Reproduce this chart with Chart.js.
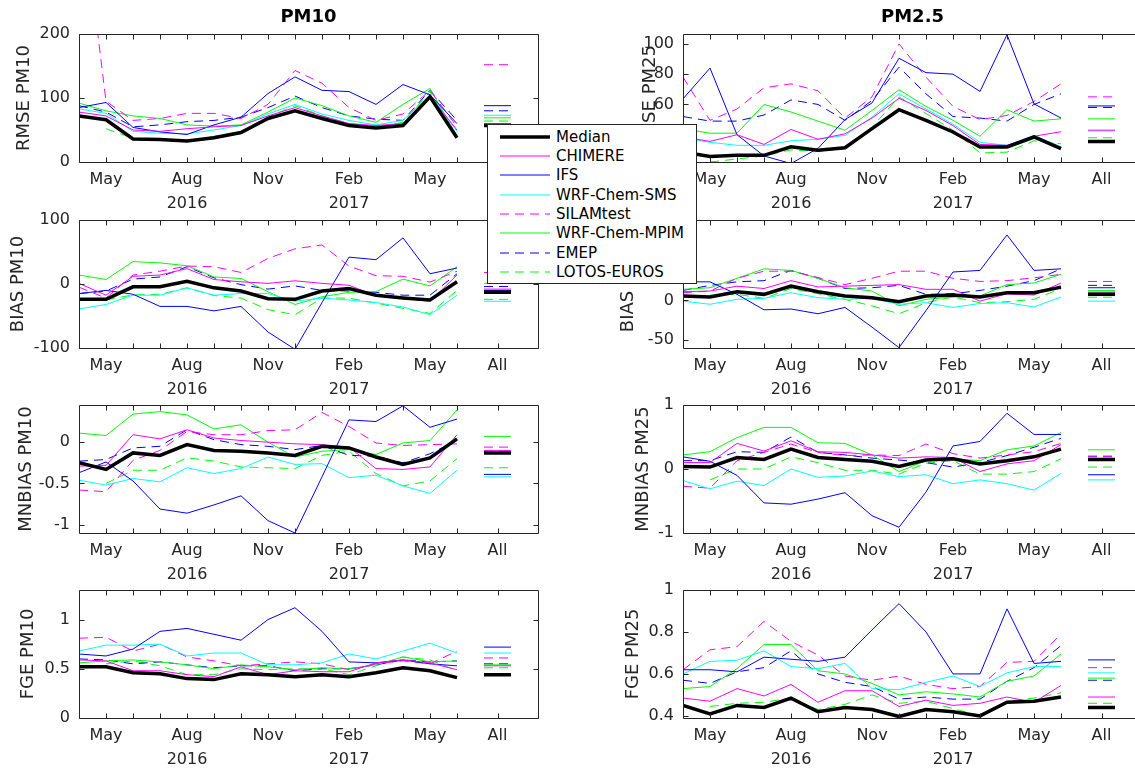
<!DOCTYPE html>
<html>
<head>
<meta charset="utf-8">
<title>Model evaluation PM10 / PM2.5</title>
<script src="https://cdn.jsdelivr.net/npm/chart.js@4.4.1/dist/chart.umd.min.js"></script>
<style>
  html, body { margin: 0; padding: 0; background: #fff; }
  body { position: relative; width: 1135px; height: 771px; overflow: hidden; }
  canvas.panel { position: absolute; }
  #legend { position: absolute; left: 487px; top: 124px; width: 210px; height: 160px; box-sizing: border-box;
            border: 1px solid #262626; background: #fff; z-index: 5;
            font-family: 'DejaVu Sans', sans-serif; font-size: 15px; color: #000; }
  #legend .item { position: absolute; left: 0; width: 200px; height: 20px; line-height: 20px; white-space: nowrap; }
  #legend svg { position: absolute; left: 12px; top: 6px; }
  #legend span { position: absolute; left: 68px; top: 0; }
</style>
</head>
<body>
<div id="legend"></div>
<script>
// ---- categories ----
const months = ['Apr 2016', 'May 2016', 'Jun 2016', 'Jul 2016', 'Aug 2016', 'Sep 2016', 'Oct 2016',
                'Nov 2016', 'Dec 2016', 'Jan 2017', 'Feb 2017', 'Mar 2017', 'Apr 2017', 'May 2017', 'Jun 2017'];
const allPos = 15.5;   // the "All" (whole period) column sits 1.5 months after the last month
const xMax = 17;

// ---- x tick positions and labels ----
const xTickPos  = [1, 2, 3, 4, 5, 6, 7, 8, 9, 10, 11, 12, 13, 14, 15.5];
const xTickText = ['May', '', '', ['Aug', '2016'], '', '', 'Nov', '', '', ['Feb', '2017'], '', '', 'May', '', 'All'];

// ---- models ----
const models      = ['Median', 'CHIMERE', 'IFS', 'WRF-Chem-SMS', 'SILAMtest', 'WRF-Chem-MPIM', 'EMEP', 'LOTOS-EUROS'];
const modelColors = ['#000000', '#ff00ff', '#0000ff', '#00ffff', '#ff00ff', '#00ff00', '#0000ff', '#00ff00'];
const modelDash   = [[], [], [], [], [9, 6], [], [9, 6], [9, 6]];
const modelWidth  = [3.5, 1, 1, 1, 1, 1, 1, 1];

// ---- RMSE PM10 (rows follow the model order) ----
const rmsePM10 = [
  [72, 66, 36, 35, 33, 38, 46, 68, 80, 68, 57, 53, 57, 102, 38],
  [78, 72, 50, 48, 52, 55, 57, 72, 85, 72, 60, 57, 60, 103, 50],
  [85, 93, 54, 47, 43, 58, 70, 107, 133, 112, 110, 90, 121, 105, 60],
  [83, 76, 48, 45, 44, 50, 57, 75, 90, 75, 65, 58, 65, 105, 48],
  [440, 95, 65, 68, 76, 76, 68, 90, 143, 123, 85, 65, 75, 112, 55],
  [92, 80, 72, 68, 58, 56, 58, 78, 100, 88, 72, 62, 90, 115, 40],
  [88, 78, 55, 58, 63, 65, 70, 85, 103, 85, 72, 67, 65, 112, 65],
  [null, 52, 37, 36, 33, 40, 48, 70, 88, 72, 60, 55, 62, 110, 38]
];
const rmsePM10All = [57, 60, 88, 73, 152, 69, 80, 64];

// ---- RMSE PM2.5 ----
const rmsePM25 = [
  [28.6, 25.7, 26.4, 26.4, 32, 29.7, 31.4, 44, 56.5, 49.5, 41.8, 31.9, 31.9, 38.5, 30.8],
  [38.5, 35.6, 40, 33.6, 43.5, 37, 40.6, 51, 64, 56, 46, 33.6, 33, 39, 42],
  [63.7, 84, 40, 26, 21, 31, 50, 61, 90.5, 81, 80, 68.6, 106, 60.4, 51],
  [38, 35, 33, 33, 36, 37, 39.6, 51.6, 67, 57, 47, 35, 33, 39.6, 32],
  [78, 49.5, 57, 71, 73.6, 69, 51, 65, 100, 78, 58.7, 50, 52.7, 62, 73.6],
  [44, 41, 41, 60, 55, 49, 43, 56, 69.7, 58.7, 49.5, 39, 56.5, 49, 50.5],
  [52, 49, 49, 53, 63, 60, 49.5, 62.6, 84.6, 67, 52, 51, 49, 60, 67],
  [null, 22, 24, 26, 30, 29, 31, 45, 65, 54, 43, 28, 28.5, 36, 34]
];
const rmsePM25All = [35.6, 43, 59, 42.5, 65, 50.5, 58, 38];

// ---- BIAS PM10 ----
const biasPM10 = [
  [-24, -24, -4.4, -4.4, 4.4, -6, -11, -23, -24, -11, -7, -17.5, -21.7, -25, 3.4],
  [1, -17.5, 12, 14, 24, 7, 3.4, 1, 5, 1, -2, -18.5, -22.7, -27, 14],
  [-15, -10, -16, -35, -35, -42, -35, -75, -102, -29, 42, 38, 72, 16, 25],
  [-39, -32, -17.5, -17.5, -6, -17.5, -15, -15, -27, -22, -25, -29, -36, -48, -17.5],
  [-5, -22, 14, 20, 28, 27, 18, 40, 55, 61, 28, 13, 12, 3, 20],
  [14, 7, 35, 33, 28.5, 11, 8.6, -12, -32, -20, -13, -12, 7.6, -3, 27],
  [-15, -11, 7.6, 11, 27, 9.7, -1, -8, -3, -10, -11, -13, -17.5, -17.5, 16],
  [null, -25, -17, -16, -6, -18, -22, -40, -48, -22, -22, -30, -38, -46, -10]
];
const biasPM10All = [-13, -8, -10, -27, 18, 1, -4, -24];

// ---- BIAS PM2.5 ----
const biasPM25 = [
  [5.5, 4.2, 11, 7.6, 18, 11, 5.5, 3.4, -1.7, 5.5, 6.7, 4.2, 9.7, 9.7, 16.8],
  [11, 11.8, 18, 15, 25, 17, 18, 19, 20, 14, 14, -1, 8.4, 6.7, 22],
  [23.5, 23.5, 7.6, -12, -11, -17, -9, -34, -60, -13, 36, 38, 83, 38, 40],
  [-1, -5, 1.3, 2.5, 9.7, 3.4, 1.3, 2.5, -5, -3, -9, -4, -3, -8.4, 4.2],
  [9.7, 11.8, 28, 37, 37, 29, 20, 28, 37, 37, 28, 24, 25, 28.6, 33],
  [14, 16, 28, 40, 38, 28, 16, 11.8, -7, 1.3, 4.2, 5.5, 20, 22, 33],
  [12.6, 19, 23.5, 25, 38, 28, 15, 16, 19, 7.6, 8.4, 12.6, 18, 25, 40],
  [null, 6.7, 7.6, 2.5, 15, 8.4, 1.3, -7, -17, -3, 4.2, -3, -1.7, 1.3, 15]
];
const biasPM25All = [7.6, 10.5, 16, -1, 24, 12.6, 19, 4];

// ---- MNBIAS PM10 ----
const mnbiasPM10 = [
  [-0.25, -0.33, -0.13, -0.16, -0.03, -0.1, -0.11, -0.13, -0.16, -0.05, -0.07, -0.18, -0.27, -0.19, 0.04],
  [-0.29, -0.28, 0.09, 0.04, 0.15, 0.05, 0.02, 0, -0.02, -0.03, -0.06, -0.32, -0.33, -0.3, 0.09],
  [-0.37, -0.24, -0.47, -0.81, -0.86, -0.76, -0.65, -0.95, -1.1, -0.42, 0.27, 0.25, 0.44, 0.18, 0.28],
  [-0.46, -0.52, -0.44, -0.48, -0.31, -0.38, -0.32, -0.18, -0.27, -0.26, -0.43, -0.4, -0.53, -0.62, -0.34],
  [-0.58, -0.6, -0.22, -0.1, 0.13, 0.09, 0.09, 0.14, 0.15, 0.36, 0.19, -0.01, -0.04, -0.03, -0.02],
  [0.11, 0.08, 0.34, 0.37, 0.33, 0.16, 0.21, 0, -0.18, -0.11, -0.09, -0.15, -0.01, 0.02, 0.39],
  [-0.23, -0.21, -0.07, -0.05, 0.15, 0.03, -0.03, -0.05, -0.09, -0.04, -0.16, -0.17, -0.25, -0.14, 0.02],
  [null, -0.5, -0.34, -0.34, -0.19, -0.23, -0.3, -0.31, -0.32, -0.16, -0.11, -0.38, -0.53, -0.47, -0.2]
];
const mnbiasPM10All = [-0.13, -0.1, -0.39, -0.42, -0.06, 0.07, -0.11, -0.31];

// ---- MNBIAS PM2.5 ----
const mnbiasPM25 = [
  [0.04, 0.03, 0.18, 0.15, 0.31, 0.18, 0.15, 0.12, 0.04, 0.14, 0.16, 0.08, 0.13, 0.19, 0.31],
  [0.1, 0.1, 0.4, 0.28, 0.44, 0.27, 0.26, 0.22, 0.17, 0.19, 0.18, -0.04, 0.08, 0.13, 0.38],
  [0.19, 0.12, -0.1, -0.53, -0.55, -0.47, -0.37, -0.73, -0.91, -0.36, 0.36, 0.43, 0.87, 0.54, 0.54],
  [-0.18, -0.31, -0.19, -0.26, 0, -0.13, -0.11, -0.03, -0.12, -0.09, -0.23, -0.17, -0.23, -0.33, -0.07],
  [-0.27, -0.3, 0.13, 0.26, 0.39, 0.26, 0.21, 0.22, 0.21, 0.39, 0.24, 0.17, 0.22, 0.27, 0.4],
  [0.22, 0.27, 0.49, 0.65, 0.65, 0.41, 0.4, 0.22, -0.04, 0.13, 0.16, 0.13, 0.3, 0.36, 0.57],
  [0.13, 0.13, 0.27, 0.26, 0.5, 0.26, 0.22, 0.17, 0.14, 0.1, 0.03, 0.1, 0.21, 0.34, 0.48],
  [null, -0.17, 0, 0, 0.19, 0.1, -0.02, -0.02, -0.08, 0.09, 0.13, -0.08, -0.08, -0.04, 0.16]
];
const mnbiasPM25All = [0.15, 0.16, -0.09, -0.17, 0.19, 0.3, 0.2, 0.03];

// ---- FGE PM10 ----
const fgePM10 = [
  [0.52, 0.52, 0.46, 0.45, 0.4, 0.39, 0.45, 0.44, 0.42, 0.44, 0.42, 0.46, 0.51, 0.48, 0.41],
  [0.59, 0.58, 0.48, 0.48, 0.44, 0.42, 0.52, 0.44, 0.48, 0.47, 0.47, 0.56, 0.59, 0.56, 0.49],
  [0.65, 0.63, 0.7, 0.88, 0.91, 0.85, 0.79, 1.0, 1.12, 0.88, 0.57, 0.56, 0.59, 0.55, 0.53],
  [0.68, 0.74, 0.74, 0.75, 0.63, 0.66, 0.66, 0.54, 0.54, 0.56, 0.65, 0.6, 0.68, 0.76, 0.66],
  [0.81, 0.82, 0.68, 0.75, 0.62, 0.58, 0.53, 0.55, 0.57, 0.55, 0.49, 0.55, 0.58, 0.55, 0.68],
  [0.56, 0.58, 0.59, 0.57, 0.54, 0.5, 0.54, 0.52, 0.49, 0.51, 0.5, 0.54, 0.62, 0.57, 0.58],
  [0.6, 0.59, 0.55, 0.57, 0.54, 0.51, 0.53, 0.53, 0.48, 0.5, 0.5, 0.54, 0.59, 0.57, 0.58],
  [null, 0.55, 0.58, 0.53, 0.44, 0.44, 0.5, 0.49, 0.5, 0.5, 0.44, 0.53, 0.62, 0.59, 0.48]
];
const fgePM10All = [0.44, 0.53, 0.72, 0.66, 0.61, 0.54, 0.55, 0.51];

// ---- FGE PM2.5 ----
const fgePM25 = [
  [0.45, 0.41, 0.45, 0.44, 0.485, 0.42, 0.44, 0.43, 0.397, 0.43, 0.42, 0.4, 0.465, 0.47, 0.49],
  [0.485, 0.47, 0.53, 0.495, 0.55, 0.465, 0.52, 0.52, 0.445, 0.475, 0.45, 0.46, 0.49, 0.465, 0.545],
  [0.62, 0.62, 0.61, 0.68, 0.67, 0.66, 0.68, 0.81, 0.935, 0.8, 0.6, 0.6, 0.91, 0.65, 0.66],
  [0.6, 0.66, 0.665, 0.71, 0.635, 0.625, 0.65, 0.53, 0.525, 0.56, 0.59, 0.54, 0.605, 0.635, 0.635],
  [0.62, 0.715, 0.73, 0.85, 0.755, 0.69, 0.59, 0.57, 0.59, 0.55, 0.53, 0.54, 0.655, 0.66, 0.79],
  [0.53, 0.54, 0.625, 0.74, 0.74, 0.615, 0.6, 0.555, 0.5, 0.515, 0.505, 0.49, 0.565, 0.59, 0.695],
  [0.57, 0.555, 0.61, 0.63, 0.71, 0.6, 0.56, 0.54, 0.48, 0.49, 0.48, 0.48, 0.565, 0.63, 0.735],
  [null, 0.445, 0.46, 0.465, 0.485, 0.43, 0.455, 0.5, 0.46, 0.47, 0.435, 0.4, 0.47, 0.485, 0.51]
];
const fgePM25All = [0.44, 0.49, 0.667, 0.605, 0.63, 0.58, 0.57, 0.46];

// ---- y-axis ranges and ticks ----
const rmsePM10Ticks   = [0, 100, 200];
const rmsePM25Ticks   = [40, 60, 80, 100];
const biasPM10Ticks   = [-100, 0, 100];
const biasPM25Ticks   = [-50, 0, 50, 100];
const mnbiasPM10Ticks = [-1, -0.5, 0];
const mnbiasPM25Ticks = [-1, 0, 1];
const fgePM10Ticks    = [0, 0.5, 1];
const fgePM25Ticks    = [0.4, 0.6, 0.8, 1];

// ---- page layout ----
const FONT = "'DejaVu Sans', sans-serif";
const AXIS_COLOR = '#262626';
const rowTop = [34, 220, 405, 590];     // top of each plotting box
const plotH = 128;
const headH = 33;                      // room above a plotting box (title row)
const xAxisH = 55;
const colCanvasLeft = [0, 600];
const canvasW = 560;
const colPlotLeft = [79, 683];
const colPlotRight = [538, 1142];

const panels = [
  { row: 0, col: 0, title: 'PM10',  ylabel: 'RMSE PM10',   values: rmsePM10,   all: rmsePM10All,   ticks: rmsePM10Ticks,   min: 0,    max: 200,   labelX: 24 },
  { row: 0, col: 1, title: 'PM2.5', ylabel: 'RMSE PM25',   values: rmsePM25,   all: rmsePM25All,   ticks: rmsePM25Ticks,   min: 22,   max: 106.5, labelX: 650 },
  { row: 1, col: 0, title: null,    ylabel: 'BIAS PM10',   values: biasPM10,   all: biasPM10All,   ticks: biasPM10Ticks,   min: -100, max: 100,   labelX: 18 },
  { row: 1, col: 1, title: null,    ylabel: 'BIAS PM25',   values: biasPM25,   all: biasPM25All,   ticks: biasPM25Ticks,   min: -60.5, max: 102,  labelX: 628 },
  { row: 2, col: 0, title: null,    ylabel: 'MNBIAS PM10', values: mnbiasPM10, all: mnbiasPM10All, ticks: mnbiasPM10Ticks, min: -1.1, max: 0.45,  labelX: 26 },
  { row: 2, col: 1, title: null,    ylabel: 'MNBIAS PM25', values: mnbiasPM25, all: mnbiasPM25All, ticks: mnbiasPM25Ticks, min: -1,   max: 1,     labelX: 643 },
  { row: 3, col: 0, title: null,    ylabel: 'FGE PM10',    values: fgePM10,    all: fgePM10All,    ticks: fgePM10Ticks,    min: 0,    max: 1.3,   labelX: 28 },
  { row: 3, col: 1, title: null,    ylabel: 'FGE PM25',    values: fgePM25,    all: fgePM25All,    ticks: fgePM25Ticks,    min: 0.39, max: 1,     labelX: 633 }
];

// Monthly points, a gap, then a short flat segment centred on the "All" column
function seriesPoints(vals, allVal) {
  const pts = vals.map((v, i) => ({ x: i, y: v }));
  pts.push({ x: allPos - 0.75, y: null });
  pts.push({ x: allPos - 0.5, y: allVal }, { x: allPos + 0.5, y: allVal });
  return pts;
}

// Box around the plotting area with inward tick marks on all four sides
const boxPlugin = {
  id: 'axesBox',
  afterDatasetsDraw(chart) {
    const { ctx, chartArea: a, scales: { x, y } } = chart;
    const tl = 5;
    const L = Math.round(a.left) + 0.5, R = Math.round(a.right) + 0.5;
    const T = Math.round(a.top) + 0.5, B = Math.round(a.bottom) + 0.5;
    ctx.save();
    ctx.strokeStyle = AXIS_COLOR;
    ctx.lineWidth = 1;
    ctx.beginPath();
    ctx.rect(L, T, R - L, B - T);
    x.ticks.forEach(t => {
      const px = Math.round(x.getPixelForValue(t.value)) + 0.5;
      ctx.moveTo(px, B); ctx.lineTo(px, B - tl);
      ctx.moveTo(px, T); ctx.lineTo(px, T + tl);
    });
    y.ticks.forEach(t => {
      const py = Math.round(y.getPixelForValue(t.value)) + 0.5;
      ctx.moveTo(L, py); ctx.lineTo(L + tl, py);
      ctx.moveTo(R, py); ctx.lineTo(R - tl, py);
    });
    ctx.stroke();
    ctx.restore();
  }
};

panels.forEach(p => {
  const canvas = document.createElement('canvas');
  canvas.className = 'panel';
  const h = headH + plotH + xAxisH;
  canvas.width = canvasW;
  canvas.height = h;
  canvas.style.width = canvasW + 'px';
  canvas.style.height = h + 'px';
  canvas.style.left = colCanvasLeft[p.col] + 'px';
  canvas.style.top = (rowTop[p.row] - headH) + 'px';
  document.body.appendChild(canvas);

  const yWidth = colPlotLeft[p.col] - colCanvasLeft[p.col];
  const padRight = colCanvasLeft[p.col] + canvasW - colPlotRight[p.col];
  const titlePad = p.labelX - colCanvasLeft[p.col] - 9;

  new Chart(canvas, {
    type: 'line',
    data: {
      datasets: models.map((name, k) => ({
        label: name,
        data: seriesPoints(p.values[k], p.all[k]),
        borderColor: modelColors[k],
        borderWidth: modelWidth[k],
        borderDash: modelDash[k],
        pointRadius: 0,
        tension: 0,
        fill: false,
        spanGaps: false
      }))
    },
    options: {
      responsive: false,
      animation: false,
      events: [],
      layout: { padding: { top: p.title ? 0 : headH, right: padRight, left: 0, bottom: 0 } },
      plugins: {
        legend: { display: false },
        tooltip: { enabled: false },
        title: {
          display: !!p.title,
          text: p.title || '',
          fullSize: false,
          color: '#000',
          font: { family: FONT, size: 18, weight: 'bold', lineHeight: 1.2 },
          padding: { top: 6, bottom: 5.4 }
        }
      },
      scales: {
        x: {
          type: 'linear',
          min: 0,
          max: xMax,
          afterBuildTicks: s => { s.ticks = xTickPos.map(v => ({ value: v })); },
          afterFit: s => { s.height = xAxisH; },
          grid: { display: false, drawTicks: false },
          border: { display: false },
          ticks: {
            autoSkip: false,
            maxRotation: 0,
            padding: 6,
            color: AXIS_COLOR,
            font: { family: FONT, size: 16, lineHeight: 1.5 },
            callback: v => {
              const i = xTickPos.indexOf(v);
              return i >= 0 ? xTickText[i] : '';
            }
          }
        },
        y: {
          type: 'linear',
          min: p.min,
          max: p.max,
          afterBuildTicks: s => { s.ticks = p.ticks.map(v => ({ value: v })); },
          afterFit: s => { s.width = yWidth; },
          grid: { display: false, drawTicks: false },
          border: { display: false },
          ticks: {
            padding: 9,
            color: AXIS_COLOR,
            font: { family: FONT, size: 16 },
            callback: v => String(v)
          },
          title: {
            display: true,
            text: p.ylabel,
            color: AXIS_COLOR,
            font: { family: FONT, size: 18, lineHeight: 1 },
            padding: { top: titlePad, bottom: 0 }
          }
        }
      }
    },
    plugins: [boxPlugin]
  });
});

// Legend box listing the models with their line styles
const legend = document.getElementById('legend');
models.forEach((name, k) => {
  const item = document.createElement('div');
  item.className = 'item';
  item.style.top = (1.7 + k * 19.3) + 'px';
  const dash = modelDash[k].length ? modelDash[k].join(',') : 'none';
  item.innerHTML =
    '<svg width="52" height="8"><line x1="0" y1="4" x2="50" y2="4" stroke="' + modelColors[k] +
    '" stroke-width="' + modelWidth[k] + '" stroke-dasharray="' + dash + '"/></svg>' +
    '<span>' + name + '</span>';
  legend.appendChild(item);
});
</script>
</body>
</html>
